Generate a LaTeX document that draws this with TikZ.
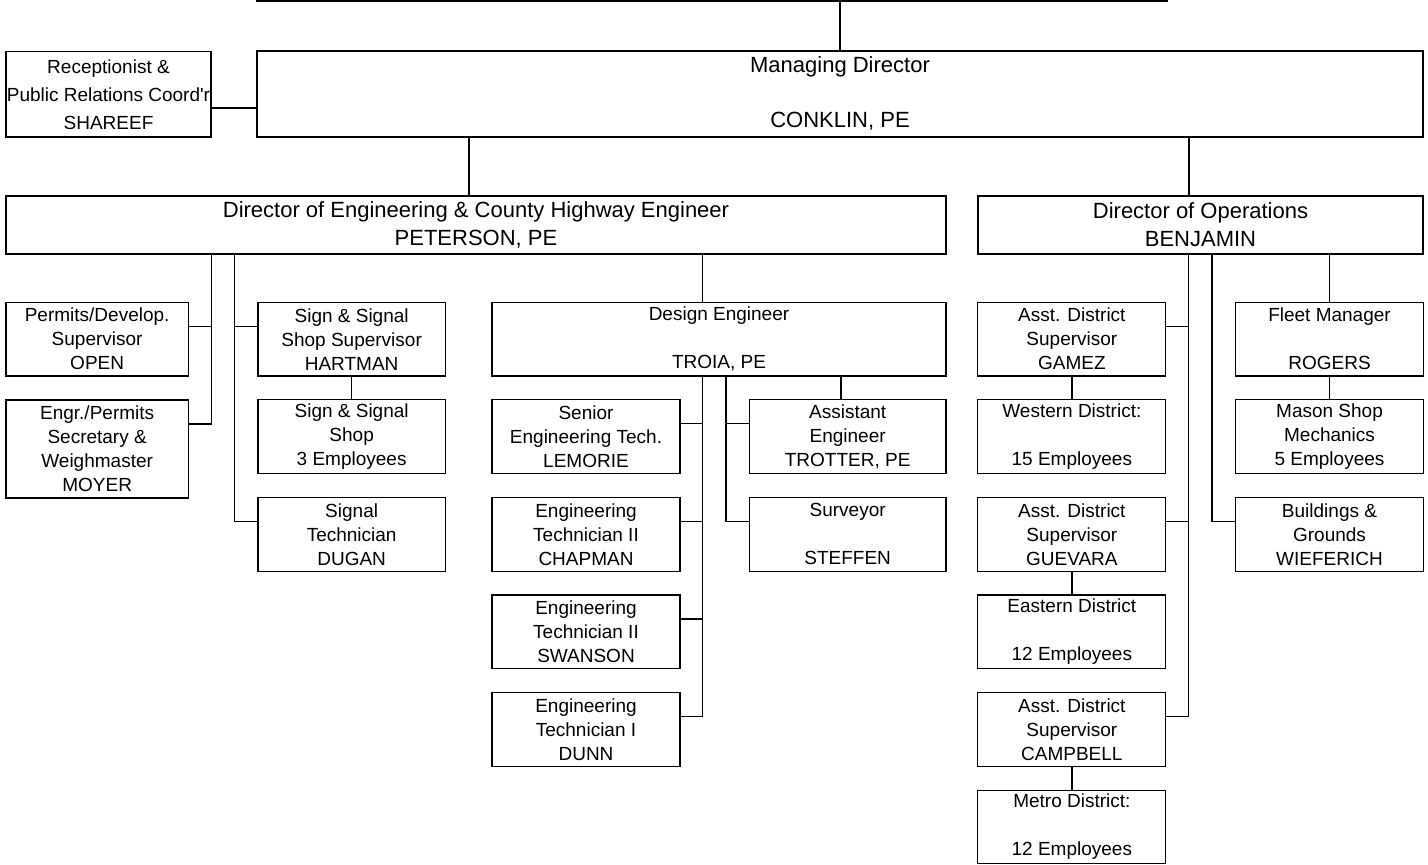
\documentclass[tikz,border=0pt]{standalone}
\usepackage{fontspec}
\setmainfont{Liberation Sans}[Ligatures=TeXOff]
\usepackage{tikz}
\usetikzlibrary{shapes}
\tikzstyle{unit} = [rectangle,draw=black,line width=0.6pt,inner sep=0pt,align=center,
minimum width=94pt, minimum height=36.85pt, font=\fontsize{9.5}{12}\selectfont]
\tikzstyle{head} = [unit,line width=1pt,font=\fontsize{11}{13.75}\selectfont]
\tikzstyle{link} = [line width=0.65pt]
\tikzstyle{trunk} = [link,line width=0.9pt]
\newcommand{\branch}[4][east]{ %
  % Hang all boxes #4 off box #2 along the trunk at #3.
  \foreach \y in {#4} { %
    \draw[link] (#2.south -| #3) |- ([yshift=-12.25pt]\y.north #1) ;%
  } ;
}
\newcommand{\under}[2]{ %
  \draw[link] (#1.south) -- (#2.north) ;%
}

\begin{document}
\begin{tikzpicture}[x=0.5pt,y=-0.5pt]
  \useasboundingbox (0,0) rectangle (1428,865);
  \clip (0,0) rectangle (1428,865);
  \node[head, minimum width=455pt, minimum height=20pt](board) at (711.7,-18.5) {};
  \node[head, minimum width=583.3pt, minimum height=42.85pt](md) at (840,93.85) {Managing Director\\ \\CONKLIN, PE};
  \node[unit, minimum width=102.5pt, minimum height=42.65pt, font=\fontsize{9.5}{14}\selectfont](recep) at (108.5,94.35) {Receptionist \&\\Public Relations Coord'r\\SHAREEF};
  \node[head, minimum width=470pt, minimum height=29pt](engdir) at (476,224.7) {Director of Engineering \& County Highway Engineer\\PETERSON, PE};
  \node[head, minimum width=222.8pt, minimum height=28.85pt](opsdir) at (1200.5,224.85) {Director of Operations\\BENJAMIN};
  % engineering side
  \node[unit, minimum width=91.15pt](permits) at (97.15,339.15) {Permits/Develop.\\Supervisor\\OPEN};
  \node[unit, minimum width=91.15pt, minimum height=49pt](secretary) at (97.15,449) {Engr./Permits\\Secretary \&\\Weighmaster\\MOYER};
  \node[unit, minimum width=93.65pt](signsup) at (351.65,339.15) {Sign \& Signal\\Shop Supervisor\\HARTMAN};
  \node[unit, minimum width=93.65pt](signshop) at (351.65,436.65) {Sign \& Signal\\Shop\\3 Employees};
  \node[unit, minimum width=93.65pt](signaltech) at (351.65,534.35) {Signal\\Technician\\DUGAN};
  \node[unit, minimum width=227pt](design) at (719,339.15) {Design Engineer\\ \\TROIA, PE};
  \node[unit](seniortech) at (586,436.65) {Senior\\Engineering Tech.\\LEMORIE};
  \node[unit](techchap) at (586,534.35) {Engineering\\Technician II\\CHAPMAN};
  \node[unit](techswan) at (586,631.85) {Engineering\\Technician II\\SWANSON};
  \node[unit](techdunn) at (586,729.5) {Engineering\\Technician I\\DUNN};
  \node[unit, minimum width=98.35pt](asstengr) at (847.65,436.65) {Assistant\\Engineer\\TROTTER, PE};
  \node[unit, minimum width=98.35pt](surveyor) at (847.65,534.35) {Surveyor\\ \\STEFFEN};
  % operations side
  \node[unit](gamez) at (1071.85,339.15) {Asst. District\\Supervisor\\GAMEZ};
  \node[unit](western) at (1071.85,436.65) {Western District:\\ \\15 Employees};
  \node[unit](guevara) at (1071.85,534.35) {Asst. District\\Supervisor\\GUEVARA};
  \node[unit](eastern) at (1071.85,631.85) {Eastern District\\ \\12 Employees};
  \node[unit](campbell) at (1071.85,729.5) {Asst. District\\Supervisor\\CAMPBELL};
  \node[unit](metro) at (1071.85,827) {Metro District:\\ \\12 Employees};
  \node[unit, minimum width=93.8pt](fleet) at (1329.5,339.15) {Fleet Manager\\ \\ROGERS};
  \node[unit, minimum width=93.8pt](mason) at (1329.5,436.65) {Mason Shop\\Mechanics\\5 Employees};
  \node[unit, minimum width=93.8pt](grounds) at (1329.5,534.35) {Buildings \&\\Grounds\\WIEFERICH};
  % trunks
  \coordinate (teng) at (469.3,0);
  \coordinate (tops) at (1188.7,0);
  \coordinate (tperm) at (211.3,0);
  \coordinate (tsign) at (234.3,0);
  \coordinate (tdes) at (702.7,0);
  \coordinate (tassist) at (726,0);
  \coordinate (ttrot) at (841,0);
  \coordinate (tgrounds) at (1212,0);
  \draw[link] (md.north) -- (md.north |- board.south);
  \draw[link] ([yshift=-6.8pt]recep.east) -- ([yshift=-6.8pt]recep.east -| md.west);
  \draw[trunk] (md.south -| teng) -- (engdir.north -| teng);
  \draw[trunk] (md.south -| tops) -- (opsdir.north -| tops);
  \draw[link] (engdir.south -| tdes) -- (design.north -| tdes);
  \draw[link] (design.south -| ttrot) -- (asstengr.north -| ttrot);
  \draw[link] (opsdir.south -| fleet.north) -- (fleet.north);
  \branch{engdir}{tperm}{permits,secretary}
  \branch[west]{engdir}{tsign}{signsup,signaltech}
  \branch{design}{tdes}{seniortech,techchap,techswan,techdunn}
  \branch[west]{design}{tassist}{asstengr,surveyor}
  \branch{opsdir}{tops}{gamez,guevara,campbell}
  \branch[west]{opsdir}{tgrounds}{grounds}
  \under{signsup}{signshop}
  \under{gamez}{western}
  \under{guevara}{eastern}
  \under{campbell}{metro}
  \under{fleet}{mason}
\end{tikzpicture}
\end{document}
